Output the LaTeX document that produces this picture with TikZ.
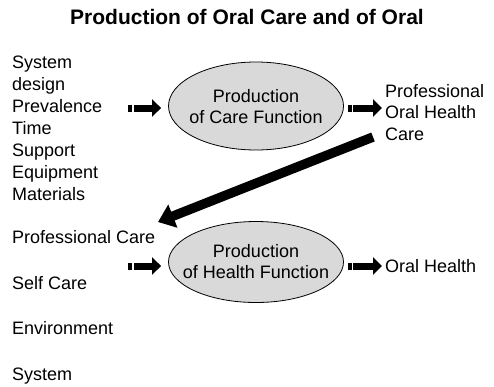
\documentclass[tikz,border=0pt]{standalone}
\usepackage{fontspec}
\setmainfont{Liberation Sans}
\usetikzlibrary{arrows.meta,shapes.geometric,positioning}

\begin{document}
\begin{tikzpicture}[x=1pt, y=-1pt, >=Latex,
    lbl/.style={anchor=base west, inner sep=0pt, font=\fontsize{18}{22}\selectfont},
    proc/.style={draw, ellipse, fill=black!15, line width=0.8pt, minimum width=175pt, inner sep=0pt},
    proctext/.style={align=center, inner sep=0pt, font=\fontsize{18}{21}\selectfont},
    blk/.style={line width=7pt, dash pattern=on 4pt off 1.5pt on 60pt, -{Triangle[length=9pt,width=17pt]}},
    bigarrow/.style={line width=9.5pt, -{Triangle[length=16pt,width=24pt]}}]
    \useasboundingbox (0,0) rectangle (494,386);

    % Title
    \node[anchor=base, inner sep=0pt, font=\bfseries\fontsize{21}{25}\selectfont] (title) at (247,24) {Production of Oral Care and of Oral};

    % Inputs of the care function
    \foreach \t [count=\i] in {System, design, Prevalence, Time, Support, Equipment, Materials}
        \node[lbl] (in\i) at (12,{68+22*(\i-1)}) {\t};

    % Inputs of the health function
    \node[lbl] (profcare) at (12,243) {Professional Care};
    \node[lbl] (selfcare) at (12,289) {Self Care};
    \node[lbl] (env) at (12,334) {Environment};
    \node[lbl] (sys) at (12,380) {System};

    % The two production functions
    \node[proc, minimum height=88pt] (care) at (256,106) {};
    \node[proctext] (caretxt) at (256,107) {Production\\of Care Function};
    \node[proc, minimum height=81pt] (health) at (256,262) {};
    \node[proctext] (healthtxt) at (256,262) {Production\\of Health Function};

    % Outputs
    \node[lbl] (pohc1) at (385,97) {Professional};
    \node[lbl] (pohc2) at (385,118) {Oral Health};
    \node[lbl] (pohc3) at (385,140) {Care};
    \node[lbl] (oralhealth) at (385,272) {Oral Health};

    % Arrows
    \coordinate (careIn) at (128,108);
    \coordinate (careOut) at (382,108);
    \coordinate (healthIn) at (128,266);
    \coordinate (healthOut) at (382,266);
    \coordinate (loopStart) at (373,137);
    \coordinate (loopEnd) at (158,222);
    \draw[blk, shorten >=7pt] (careIn) -- (care.west |- careIn);
    \draw[blk, shorten <=4pt] (care.east |- careOut) -- (careOut);
    \draw[blk, shorten >=7pt] (healthIn) -- (health.west |- healthIn);
    \draw[blk, shorten <=4pt] (health.east |- healthOut) -- (healthOut);
    \draw[bigarrow] (loopStart) -- (loopEnd);
\end{tikzpicture}
\end{document}
